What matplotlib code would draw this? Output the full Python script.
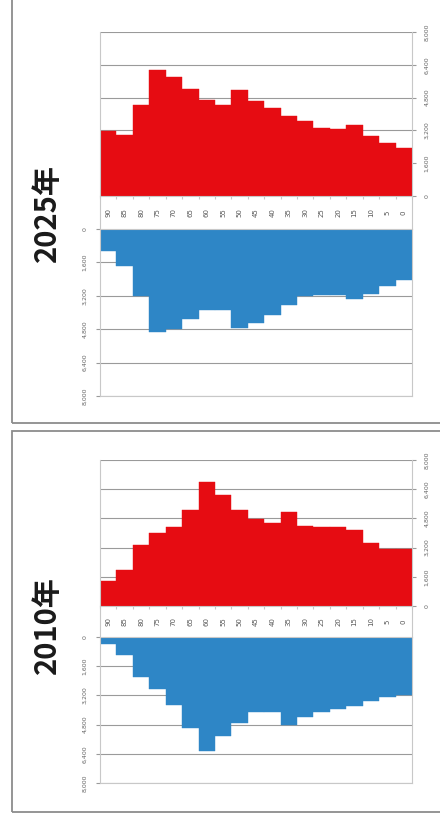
import matplotlib
matplotlib.use("Agg")
import matplotlib.pyplot as plt
from matplotlib.patches import Rectangle

plt.rcParams['font.family'] = ['Noto Sans CJK JP', 'DejaVu Sans']

# age groups, oldest on the left (chart is turned on its side)
ages = ['90', '85', '80', '75', '70', '65', '60', '55', '50', '45',
        '40', '35', '30', '25', '20', '15', '10', '5', '0']
pop_ticks = [0, 1600, 3200, 4800, 6400, 8000]
pop_labels = ['0', '1,600', '3,200', '4,800', '6,400', '8,000']

female_2025 = [3180, 2990, 4440, 6170, 5800, 5220, 4700, 4460, 5190, 4650,
               4290, 3890, 3640, 3310, 3280, 3480, 2940, 2580, 2330]
male_2025 = [1070, 1790, 3200, 4940, 4800, 4300, 3900, 3900, 4750, 4480,
             4110, 3630, 3230, 3170, 3170, 3340, 3120, 2720, 2430]
female_2010 = [1370, 1970, 3340, 4020, 4350, 5260, 6780, 6080, 5260, 4770,
               4530, 5130, 4400, 4350, 4350, 4170, 3440, 3100, 3100]
male_2010 = [370, 1010, 2190, 2830, 3750, 4970, 6270, 5430, 4700, 4110,
             4110, 4810, 4390, 4110, 3970, 3790, 3530, 3290, 3160]

RED = '#e60c12'
BLUE = '#2e86c6'
GRID = '#9a9a9a'
FRAME = '#c8c8c8'

W, H = 440, 814
fig = plt.figure(figsize=(W / 100, H / 100), dpi=100)


def fig_box(x0, y_top, x1, y_bot):
    """pixel box (top-left origin) -> figure fraction rect"""
    return [x0 / W, 1 - y_bot / H, (x1 - x0) / W, (y_bot - y_top) / H]


def style_axis(ax):
    ax.set_xlim(-0.5, len(ages) - 0.5)
    ax.set_ylim(0, 8000)
    ax.set_yticks(pop_ticks)
    ax.set_yticklabels(pop_labels, rotation=90, va='center', fontsize=4.5,
                       color='#666666', family='DejaVu Sans')
    ax.grid(axis='y', color=GRID, linewidth=0.8)
    ax.set_axisbelow(True)
    ax.tick_params(axis='y', length=3, color=GRID, pad=6)
    ax.set_xticks([i - 0.5 for i in range(len(ages) + 1)])
    ax.set_xticklabels([])
    ax.tick_params(axis='x', length=2, color=FRAME)
    for s in ax.spines.values():
        s.set_color(FRAME)
        s.set_linewidth(0.8)


def draw_panel(year, female, male, y_red_top, y_red0, y_blue0, y_blue_bot,
               frame_top, frame_bot, title_y):
    x = list(range(len(ages)))

    ax_f = fig.add_axes(fig_box(100, y_red_top, 412, y_red0))
    ax_f.bar(x, female, width=1.0, color=RED, edgecolor=RED, linewidth=0.3)
    style_axis(ax_f)
    ax_f.yaxis.tick_right()
    ax_f.spines['top'].set_visible(False)

    ax_m = fig.add_axes(fig_box(100, y_blue0, 412, y_blue_bot))
    ax_m.bar(x, male, width=1.0, color=BLUE, edgecolor=BLUE, linewidth=0.3)
    style_axis(ax_m)
    ax_m.invert_yaxis()
    ax_m.tick_params(axis='x', length=0)

    # band with the age labels
    ax_a = fig.add_axes(fig_box(100, y_red0, 412, y_blue0))
    ax_a.set_xlim(-0.5, len(ages) - 0.5)
    ax_a.set_ylim(0, 1)
    ax_a.set_xticks([])
    ax_a.set_yticks([])
    ax_a.patch.set_alpha(0)
    for side in ['top', 'bottom']:
        ax_a.spines[side].set_visible(False)
    for side in ['left', 'right']:
        ax_a.spines[side].set_color(FRAME)
        ax_a.spines[side].set_linewidth(0.8)
    for i, a in enumerate(ages):
        ax_a.text(i, 0.5, a, rotation=90, ha='center', va='center',
                  fontsize=5, color='#555555', family='DejaVu Sans')

    fig.text(47 / W, 1 - title_y / H, year, rotation=90, ha='center',
             va='center', fontsize=21, fontweight='bold', color='#1a1a1a')

    fig.patches.append(Rectangle((12 / W, 1 - frame_bot / H),
                                 (W + 20 - 12) / W, (frame_bot - frame_top) / H,
                                 transform=fig.transFigure, fill=False,
                                 edgecolor='#8c8c8c', linewidth=1.3))


draw_panel('2025年', female_2025, male_2025, 32, 196, 229, 396, -10, 423, 213)
draw_panel('2010年', female_2010, male_2010, 460, 606, 637, 783, 431, 812, 625)

fig.savefig('out.png', dpi=100, facecolor='white')
